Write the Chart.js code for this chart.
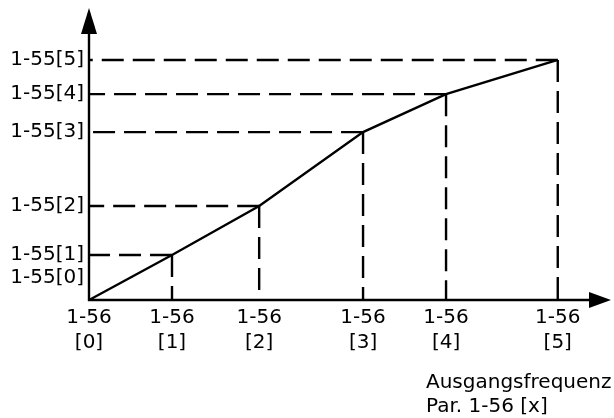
<!DOCTYPE html>
<html>
<head>
<meta charset="utf-8">
<script src="https://cdn.jsdelivr.net/npm/chart.js@4.4.1/dist/chart.umd.min.js"></script>
<style>
  html, body { margin: 0; padding: 0; background: #fff; }
  #wrap { width: 614px; height: 418px; }
</style>
</head>
<body>
<div id="wrap"><canvas id="chart"></canvas></div>
<script>
// Breakpoints of the characteristic: par. 1-56 [x] against par. 1-55 [x]
const xValues = [0, 15.9, 32.6, 52.5, 68.4, 89.8];
const yValues = [0, 15.4, 32.2, 57.5, 70.5, 82.2];
const xTickTop = ['1-56', '1-56', '1-56', '1-56', '1-56', '1-56'];
const xTickBottom = ['[0]', '[1]', '[2]', '[3]', '[4]', '[5]'];
const yTickLabels = ['1-55[0]', '1-55[1]', '1-55[2]', '1-55[3]', '1-55[4]', '1-55[5]'];
const yTickValues = [7.5, 15.4, 32.2, 57.5, 70.5, 82.2];
const axisTitle = ['Ausgangsfrequenz', 'Par. 1-56 [x]'];

const FONT = '20px "DejaVu Sans", Verdana, sans-serif';
const LINE_W = 2.4;

const points = xValues.map((x, i) => ({ x: x, y: yValues[i] }));

// dashed guides from each breakpoint to both axes
const guides = [];
for (let i = 1; i < points.length; i++) {
  const p = points[i];
  guides.push({ data: [p, { x: 0, y: p.y }] });
  guides.push({ data: [p, { x: p.x, y: 0 }] });
}
const guideSets = guides.map(g => ({
  data: g.data,
  borderColor: '#000',
  borderWidth: LINE_W,
  borderDash: [22, 9],
  pointRadius: 0,
  fill: false
}));

const arrowAxes = {
  id: 'arrowAxes',
  afterDatasetsDraw(chart) {
    const { ctx, chartArea, scales } = chart;
    const x0 = scales.x.getPixelForValue(0);
    const y0 = scales.y.getPixelForValue(0);
    ctx.save();
    ctx.strokeStyle = '#000';
    ctx.fillStyle = '#000';
    ctx.lineWidth = LINE_W;
    ctx.setLineDash([]);

    // y axis with arrow head
    ctx.beginPath();
    ctx.moveTo(x0, y0 + 1);
    ctx.lineTo(x0, chartArea.top + 20);
    ctx.stroke();
    ctx.beginPath();
    ctx.moveTo(x0, chartArea.top);
    ctx.lineTo(x0 - 8, chartArea.top + 26);
    ctx.lineTo(x0 + 8, chartArea.top + 26);
    ctx.closePath();
    ctx.fill();

    // x axis with arrow head
    ctx.beginPath();
    ctx.moveTo(x0 - 1, y0);
    ctx.lineTo(chartArea.right - 16, y0);
    ctx.stroke();
    ctx.beginPath();
    ctx.moveTo(chartArea.right, y0);
    ctx.lineTo(chartArea.right - 22, y0 - 8);
    ctx.lineTo(chartArea.right - 22, y0 + 8);
    ctx.closePath();
    ctx.fill();

    ctx.font = FONT;
    ctx.textBaseline = 'middle';

    // y tick labels
    ctx.textAlign = 'right';
    yTickLabels.forEach((t, i) => {
      ctx.fillText(t, x0 - 5, scales.y.getPixelForValue(yTickValues[i]));
    });

    // x tick labels, two lines each
    ctx.textAlign = 'center';
    xValues.forEach((v, i) => {
      const px = scales.x.getPixelForValue(v);
      ctx.fillText(xTickTop[i], px, y0 + 18);
      ctx.fillText(xTickBottom[i], px, y0 + 43);
    });

    // axis title
    ctx.textAlign = 'left';
    ctx.fillText(axisTitle[0], 426, y0 + 83);
    ctx.fillText(axisTitle[1], 426, y0 + 107);
    ctx.restore();
  }
};

new Chart(document.getElementById('chart'), {
  type: 'line',
  data: {
    datasets: [{
      data: points,
      borderColor: '#000',
      borderWidth: LINE_W,
      pointRadius: 0,
      tension: 0,
      fill: false
    }].concat(guideSets)
  },
  options: {
    responsive: true,
    maintainAspectRatio: false,
    animation: false,
    layout: { padding: { left: 89, right: 3, top: 8, bottom: 118 } },
    plugins: {
      legend: { display: false },
      tooltip: { enabled: false }
    },
    scales: {
      x: { type: 'linear', min: 0, max: 100, display: false },
      y: { type: 'linear', min: 0, max: 100, display: false }
    }
  },
  plugins: [arrowAxes]
});
</script>
</body>
</html>
